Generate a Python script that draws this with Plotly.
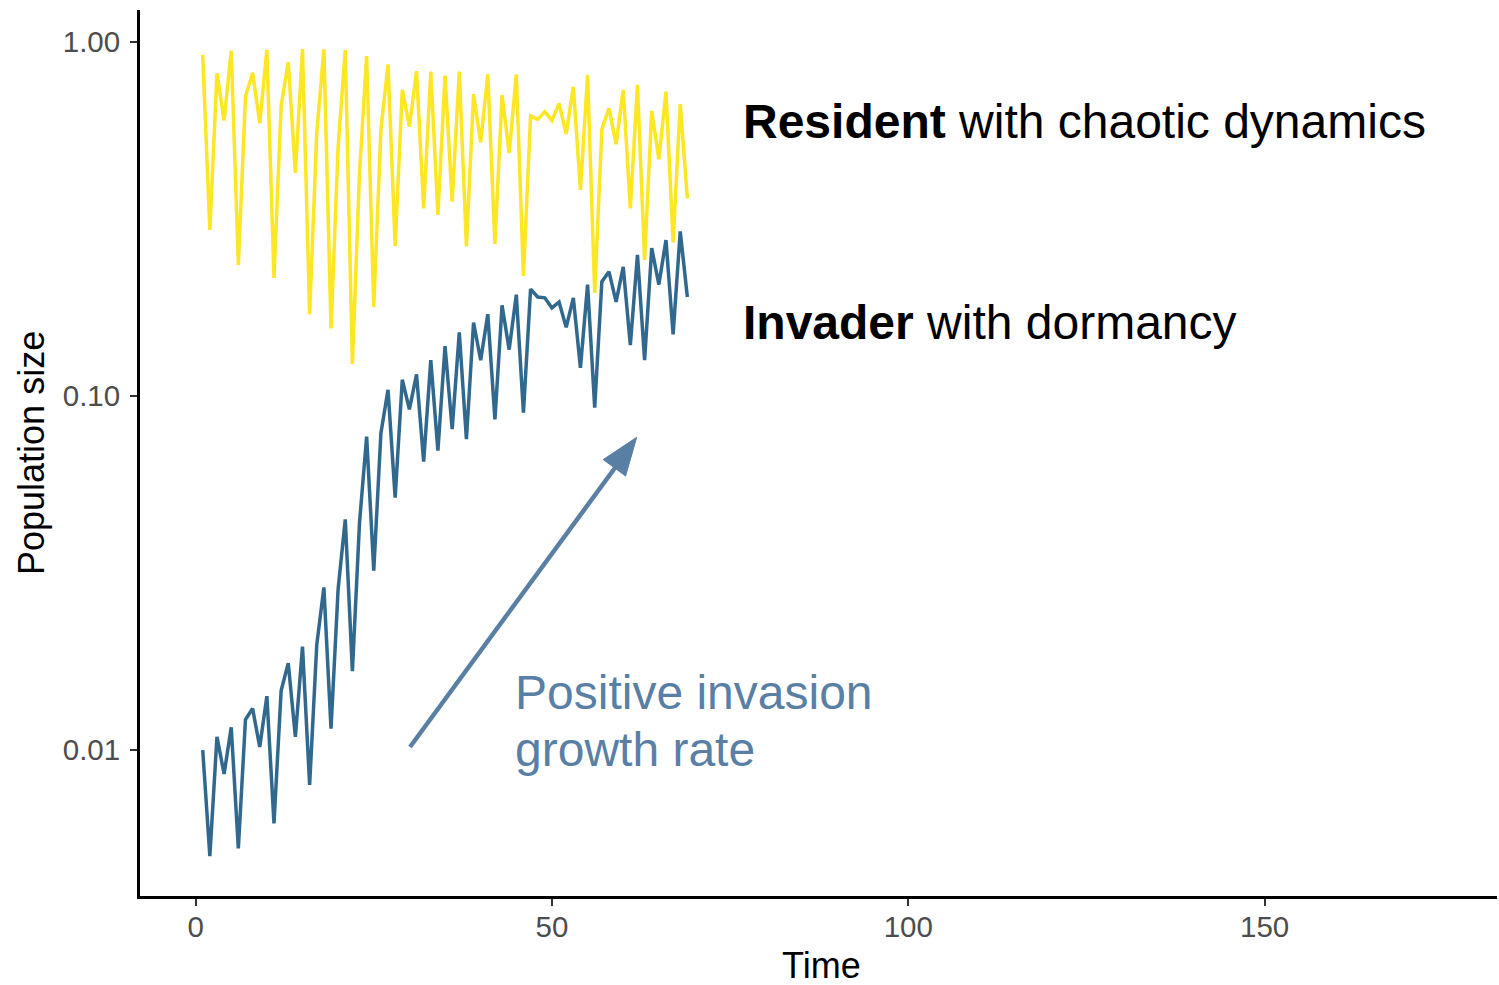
import plotly.graph_objects as go

# Time steps
time = list(range(1, 70))

# Resident population (chaotic dynamics)
resident = [
    0.916, 0.294, 0.813, 0.598, 0.942, 0.234, 0.699, 0.816, 0.588, 0.946,
    0.215, 0.658, 0.874, 0.426, 0.952, 0.170, 0.551, 0.950, 0.155, 0.505,
    0.946, 0.123, 0.425, 0.910, 0.178, 0.563, 0.862, 0.265, 0.730, 0.575,
    0.825, 0.338, 0.822, 0.324, 0.801, 0.353, 0.822, 0.264, 0.710, 0.519,
    0.808, 0.268, 0.706, 0.484, 0.808, 0.218, 0.616, 0.603, 0.634, 0.598,
    0.669, 0.548, 0.745, 0.381, 0.804, 0.195, 0.565, 0.648, 0.513, 0.730,
    0.338, 0.754, 0.242, 0.637, 0.465, 0.722, 0.271, 0.666, 0.361,
]

# Invader population (with dormancy)
invader = [
    0.0100, 0.00502, 0.0109, 0.00856, 0.0116, 0.00528, 0.0122, 0.0131, 0.0102, 0.0142,
    0.00621, 0.0147, 0.0176, 0.0109, 0.0196, 0.00797, 0.0198, 0.0288, 0.0115, 0.0285,
    0.0448, 0.0167, 0.0438, 0.0767, 0.0321, 0.0784, 0.104, 0.0516, 0.111, 0.0916,
    0.115, 0.0652, 0.126, 0.0700, 0.138, 0.0805, 0.151, 0.0754, 0.161, 0.126,
    0.170, 0.0858, 0.180, 0.135, 0.193, 0.0896, 0.200, 0.190, 0.189, 0.177,
    0.184, 0.156, 0.189, 0.120, 0.206, 0.0926, 0.210, 0.224, 0.184, 0.231,
    0.139, 0.250, 0.126, 0.261, 0.206, 0.275, 0.149, 0.291, 0.190,
]

x_ticks = [0, 50, 100, 150]
y_ticks = [0.01, 0.1, 1.0]
y_tick_labels = ["0.01", "0.10", "1.00"]

W, H = 1499, 985
ML, MR, MT, MB = 140, 2, 10, 89
FONT = "Liberation Sans, Arial, sans-serif"
ARROW_COLOR = "#5A7FA5"


def paper_x(px):
    return (px - ML) / (W - ML - MR)


def paper_y(py):
    return (H - MB - py) / (H - MT - MB)


fig = go.Figure()
fig.add_trace(go.Scatter(x=time, y=resident, mode="lines",
                         line=dict(color="#FDE725", width=3.5), showlegend=False))
fig.add_trace(go.Scatter(x=time, y=invader, mode="lines",
                         line=dict(color="#31688E", width=3.5), showlegend=False))

axis_common = dict(
    showgrid=False, zeroline=False, showline=True, linecolor="black", linewidth=2.8,
    ticks="outside", ticklen=7, tickwidth=2.2, tickcolor="#333333",
    tickfont=dict(family=FONT, size=29.5, color="#4D4D4D"),
)

fig.update_layout(
    width=W, height=H,
    margin=dict(l=ML, r=MR, t=MT, b=MB),
    plot_bgcolor="white", paper_bgcolor="white",
    xaxis=dict(range=[-7.8, 182.6], tickvals=x_ticks, ticklabelstandoff=-4,
               **axis_common),
    yaxis=dict(type="log", range=[-2.4118, 0.0889], tickvals=y_ticks,
               ticktext=y_tick_labels, ticklabelstandoff=4, **axis_common),
)

# Arrow: shaft plus a filled triangular head
tail = (410, 747)
tip = (636.7, 437.3)
corner_a = (625.6, 476.0)
corner_b = (603.2, 459.6)
shaft_end = (620, 461)
fig.add_shape(type="line", xref="paper", yref="paper",
              x0=paper_x(tail[0]), y0=paper_y(tail[1]),
              x1=paper_x(shaft_end[0]), y1=paper_y(shaft_end[1]),
              line=dict(color=ARROW_COLOR, width=4.5))
head = "M {} {} L {} {} L {} {} Z".format(
    paper_x(tip[0]), paper_y(tip[1]),
    paper_x(corner_a[0]), paper_y(corner_a[1]),
    paper_x(corner_b[0]), paper_y(corner_b[1]))
fig.add_shape(type="path", xref="paper", yref="paper", path=head,
              fillcolor=ARROW_COLOR, line=dict(color=ARROW_COLOR, width=1))


def label(text, px, py, size=48, color="black", anchor="left", angle=0):
    fig.add_annotation(x=paper_x(px), y=paper_y(py), xref="paper", yref="paper",
                       xanchor=anchor, yanchor="middle", text=text, showarrow=False,
                       textangle=angle, font=dict(family=FONT, size=size, color=color))


label("<b>Resident</b> with chaotic dynamics", 741, 121)
label("<b>Invader</b> with dormancy", 741, 323)
label("Positive invasion", 513, 692, color=ARROW_COLOR)
label("growth rate", 513, 749, color=ARROW_COLOR)
label("Time", 821, 966, size=36, anchor="center")
label("Population size", 31, 453, size=36, anchor="center", angle=-90)

fig.write_html("out.html")
